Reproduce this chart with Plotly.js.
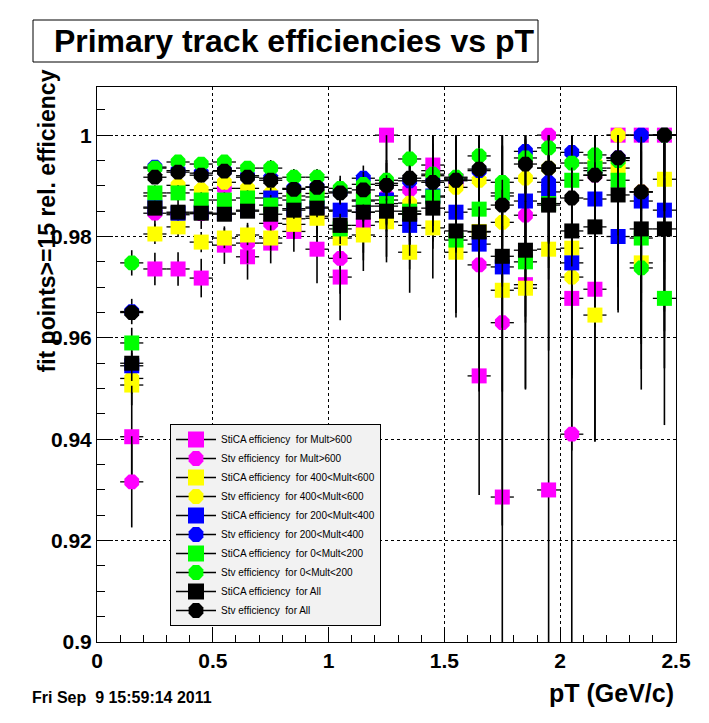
<!DOCTYPE html>
<html><head><meta charset="utf-8">
<script src="https://cdn.plot.ly/plotly-3.0.1.min.js"></script>
<style>html,body{margin:0;padding:0;background:#fff}#plot{width:709px;height:723px}</style>
</head><body><div id="plot"></div>
<script>
const pT = [0.15,0.25,0.35,0.45,0.55,0.65,0.75,0.85,0.95,1.05,1.15,1.25,1.35,1.45,1.55,1.65,1.75,1.85,1.95,2.05,2.15,2.25,2.35,2.45];

const magSq = [0.9405,0.9736,0.9736,0.9718,0.9783,0.9760,0.9787,0.9810,0.9775,0.9720,0.9822,1.0000,0.9845,0.9941,0.9910,0.9525,0.9286,0.9705,0.9300,0.9678,0.9696,1.0000,1.0000,1.0000];
const magCi = [0.9316,0.9846,0.9843,0.9845,0.9895,0.9787,0.9826,0.9835,0.9840,0.9757,0.9848,0.9880,0.9892,0.9930,0.9915,0.9744,0.9630,0.9842,1.0000,0.9410,0.9921,0.9955,0.9888,1.0000];
const yelSq = [0.9507,0.9805,0.9819,0.9789,0.9797,0.9803,0.9797,0.9824,0.9836,0.9797,0.9803,0.9829,0.9769,0.9817,0.9769,0.9810,0.9694,0.9698,0.9775,0.9777,0.9645,0.9935,0.9748,0.9913];
const yelCi = [0.9520,0.9880,0.9901,0.9892,0.9907,0.9895,0.9885,0.9880,0.9885,0.9850,0.9870,0.9860,0.9866,0.9920,0.9897,0.9911,0.9828,0.9915,0.9935,0.9720,0.9945,1.0000,0.9888,1.0000];
const bluSq = [0.9545,0.9858,0.9846,0.9848,0.9846,0.9852,0.9876,0.9855,0.9858,0.9852,0.9860,0.9872,0.9822,0.9880,0.9848,0.9785,0.9740,0.9870,0.9888,0.9748,0.9874,0.9800,0.9870,0.9852];
const bluCi = [0.9652,0.9937,0.9930,0.9925,0.9930,0.9920,0.9915,0.9895,0.9898,0.9888,0.9915,0.9905,0.9910,0.9910,0.9912,0.9930,0.9880,0.9968,0.9907,0.9966,0.9930,0.9955,1.0000,1.0000];
const grnSq = [0.9590,0.9886,0.9886,0.9872,0.9872,0.9876,0.9862,0.9872,0.9878,0.9815,0.9872,0.9865,0.9850,0.9878,0.9793,0.9854,0.9886,0.9750,0.9865,0.9911,0.9935,0.9911,0.9797,0.9678];
const grnCi = [0.9748,0.9935,0.9947,0.9943,0.9947,0.9935,0.9935,0.9917,0.9917,0.9895,0.9903,0.9911,0.9953,0.9923,0.9917,0.9959,0.9907,0.9955,0.9975,0.9945,0.9961,0.9950,0.9738,1.0000];
const blkSq = [0.9550,0.9856,0.9848,0.9846,0.9844,0.9850,0.9844,0.9852,0.9856,0.9822,0.9848,0.9850,0.9844,0.9856,0.9811,0.9809,0.9761,0.9773,0.9862,0.9811,0.9819,0.9882,0.9815,0.9815];
const blkCi = [0.9650,0.9917,0.9927,0.9921,0.9929,0.9917,0.9911,0.9893,0.9897,0.9886,0.9892,0.9901,0.9915,0.9907,0.9911,0.9933,0.9862,0.9943,0.9935,0.9876,0.9921,0.9955,0.9888,1.0000];

const magSqErr = [0.010,0.0032,0.0033,0.0038,0.0037,0.0045,0.004,0.004,0.0067,0.0085,0.009,0.019,0.011,0.0165,0.027,0.0235,0.04,0.0205,0.04,0.03,0.03,0.03,0.04,0.046];
const magCiErr = [0.009,0.003,0.003,0.003,0.003,0.004,0.004,0.004,0.005,0.007,0.008,0.012,0.012,0.014,0.02,0.025,0.04,0.02,0.03,0.045,0.03,0.03,0.035,0.04];
const yelSqErr = [0.004,0.002,0.002,0.002,0.002,0.002,0.0025,0.003,0.003,0.004,0.005,0.008,0.008,0.01,0.012,0.015,0.02,0.02,0.02,0.025,0.025,0.02,0.025,0.03];
const yelCiErr = [0.003,0.0015,0.0015,0.0015,0.0015,0.0015,0.002,0.002,0.002,0.003,0.004,0.006,0.006,0.008,0.01,0.012,0.015,0.015,0.015,0.02,0.02,0.015,0.02,0.025];
const bluSqErr = [0.003,0.0015,0.0015,0.0015,0.0015,0.0015,0.002,0.002,0.002,0.003,0.003,0.005,0.006,0.007,0.008,0.01,0.012,0.012,0.015,0.015,0.015,0.015,0.02,0.02];
const bluCiErr = [0.0025,0.0012,0.0012,0.0012,0.0012,0.0012,0.0016,0.0016,0.0016,0.0025,0.0025,0.004,0.005,0.006,0.007,0.008,0.01,0.01,0.012,0.012,0.012,0.012,0.015,0.015];
const grnSqErr = [0.003,0.0015,0.0015,0.0015,0.0015,0.0015,0.002,0.002,0.002,0.003,0.003,0.005,0.006,0.007,0.008,0.01,0.012,0.012,0.015,0.015,0.015,0.015,0.02,0.025];
const grnCiErr = [0.0025,0.0012,0.0012,0.0012,0.0012,0.0012,0.0016,0.0016,0.0016,0.0025,0.0025,0.004,0.005,0.006,0.007,0.008,0.01,0.01,0.012,0.012,0.012,0.012,0.015,0.015];
const blkSqErr = [0.002,0.001,0.001,0.001,0.001,0.001,0.001,0.001,0.0012,0.0015,0.0015,0.0025,0.003,0.0035,0.004,0.005,0.006,0.006,0.007,0.007,0.008,0.008,0.01,0.01];
const blkCiErr = [0.0015,0.0008,0.0008,0.0008,0.0008,0.0008,0.0008,0.0008,0.001,0.0012,0.0012,0.002,0.0025,0.003,0.0035,0.004,0.005,0.005,0.006,0.006,0.007,0.007,0.008,0.008];

const seriesNames = [
  'StiCA efficiency  for Mult&gt;600',
  'Stv efficiency  for Mult&gt;600',
  'StiCA efficiency  for 400&lt;Mult&lt;600',
  'Stv efficiency  for 400&lt;Mult&lt;600',
  'StiCA efficiency  for 200&lt;Mult&lt;400',
  'Stv efficiency  for 200&lt;Mult&lt;400',
  'StiCA efficiency  for 0&lt;Mult&lt;200',
  'Stv efficiency  for 0&lt;Mult&lt;200',
  'StiCA efficiency  for All',
  'Stv efficiency  for All'
];
const seriesValues = [magSq, magCi, yelSq, yelCi, bluSq, bluCi, grnSq, grnCi, blkSq, blkCi];
const seriesErrors = [magSqErr, magCiErr, yelSqErr, yelCiErr, bluSqErr, bluCiErr, grnSqErr, grnCiErr, blkSqErr, blkCiErr];
const seriesColors = ['#ff00ff','#ff00ff','#ffff00','#ffff00','#0000ff','#0000ff','#00ff00','#00ff00','#000000','#000000'];
const seriesSymbols = ['square','octagon','square','octagon','square','octagon','square','octagon','square','octagon'];

const xTickVals = [0, 0.5, 1, 1.5, 2, 2.5];
const xTickText = ['0', '0.5', '1', '1.5', '2', '2.5'];
const yTickVals = [0.9, 0.92, 0.94, 0.96, 0.98, 1.0];
const yTickText = ['0.9', '0.92', '0.94', '0.96', '0.98', '1'];

const FONT = 'Liberation Sans, Arial, sans-serif';
const traces = [];
seriesValues.forEach((vals, k) => {
  const err = seriesErrors[k];
  const up = err.map((e, i) => Math.min(e, Math.max(0, 1 - vals[i])));
  traces.push({
    type: 'scatter', mode: 'markers', x: pT, y: vals, showlegend: false,
    marker: {symbol: seriesSymbols[k], color: seriesColors[k], size: seriesSymbols[k] === 'square' ? 15 : 16, line: {width: 0}},
    error_y: {type: 'data', symmetric: false, array: up, arrayminus: err, color: '#000', thickness: 1.6, width: 0},
    error_x: {type: 'constant', value: 0.05, color: '#000', thickness: 1.3, width: 0},
    hoverinfo: 'skip'
  });
});
seriesValues.forEach((vals, k) => {
  traces.push({
    type: 'scatter', mode: 'lines+markers', x: [null], y: [null], name: seriesNames[k],
    line: {color: '#000', width: 1.5},
    marker: {symbol: seriesSymbols[k], color: seriesColors[k], size: 16, line: {width: 0}}
  });
});

const layout = {
  width: 709, height: 723,
  margin: {l: 97, r: 33, t: 87, b: 81, pad: 0},
  paper_bgcolor: '#fff', plot_bgcolor: '#fff',
  font: {family: FONT, color: '#000'},
  title: {text: 'Primary track efficiencies vs pT', font: {family: FONT, size: 32, weight: 'bold', color: '#000'},
          x: 294/709, xanchor: 'center', xref: 'container', y: 1 - 41/723, yanchor: 'middle', yref: 'container'},
  xaxis: {
    range: [0, 2.5], tickmode: 'array', tickvals: xTickVals, ticktext: xTickText,
    ticks: 'inside', ticklen: 14, tickwidth: 1, tickcolor: '#000',
    minor: {tickmode: 'linear', tick0: 0, dtick: 0.1, ticks: 'inside', ticklen: 7, tickcolor: '#000', showgrid: false},
    showgrid: true, gridcolor: '#000', griddash: 'dot', gridwidth: 1,
    showline: true, linecolor: '#000', linewidth: 1, mirror: true, zeroline: false,
    tickfont: {family: FONT, size: 21, weight: 'bold', color: '#000'}
  },
  yaxis: {
    range: [0.9, 1.0095], tickmode: 'array', tickvals: yTickVals, ticktext: yTickText,
    ticks: 'inside', ticklen: 16, tickwidth: 1, tickcolor: '#000',
    minor: {tickmode: 'linear', tick0: 0.9, dtick: 0.005, ticks: 'inside', ticklen: 8, tickcolor: '#000', showgrid: false},
    showgrid: true, gridcolor: '#000', griddash: 'dot', gridwidth: 1,
    showline: true, linecolor: '#000', linewidth: 1, mirror: true, zeroline: false,
    tickfont: {family: FONT, size: 21, weight: 'bold', color: '#000'}
  },
  legend: {
    x: (170-97)/579, y: (642-424)/555, xanchor: 'left', yanchor: 'top',
    bgcolor: '#f2f2f2', bordercolor: '#000', borderwidth: 1,
    font: {family: FONT, size: 10, color: '#000'}, itemwidth: 40, tracegroupgap: 0
  },
  shapes: [
    {type: 'rect', xref: 'paper', yref: 'paper', x0: (33-97)/579, x1: (538-97)/579, y0: (642-62)/555, y1: (642-20)/555,
     line: {color: '#000', width: 1}, fillcolor: 'rgba(0,0,0,0)', layer: 'below'}
  ],
  annotations: [
    {text: 'fit points&gt;=15 rel. efficiency', textangle: -90, xref: 'paper', yref: 'paper',
     x: (47-97)/579, xanchor: 'center', y: (642-68)/555, yanchor: 'top', showarrow: false,
     font: {family: FONT, size: 23, weight: 'bold', color: '#000'}},
    {text: 'pT (GeV/c)', xref: 'paper', yref: 'paper', x: 1, xanchor: 'right', y: (642-693)/555, yanchor: 'middle',
     showarrow: false, font: {family: FONT, size: 25, weight: 'bold', color: '#000'}},
    {text: 'Fri Sep  9 15:59:14 2011', xref: 'paper', yref: 'paper', x: (30-97)/579, xanchor: 'left', y: (642-697)/555, yanchor: 'middle',
     showarrow: false, font: {family: FONT, size: 16, weight: 'bold', color: '#000'}}
  ]
};
Plotly.newPlot('plot', traces, layout, {displayModeBar: false, staticPlot: true});
</script>
</body></html>
